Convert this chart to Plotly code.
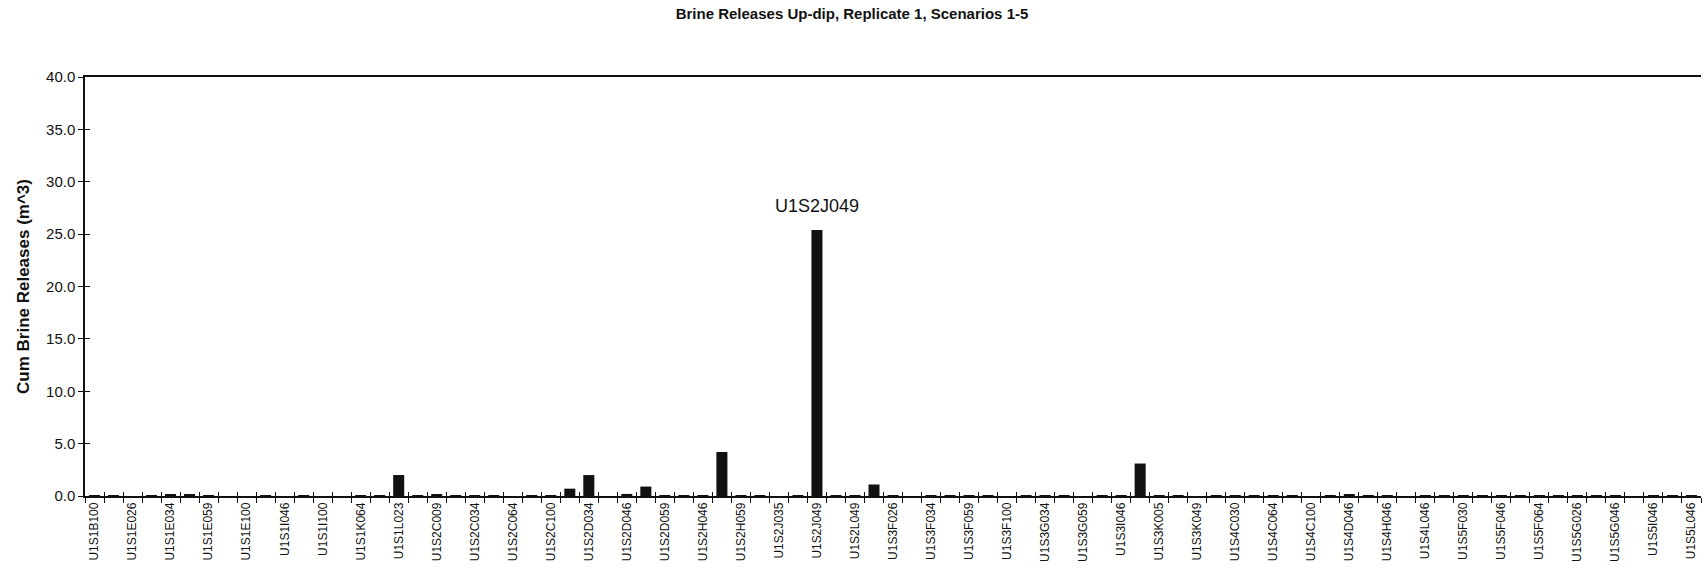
import plotly.graph_objects as go

title = "Brine Releases Up-dip, Replicate 1, Scenarios 1-5"
y_title = "Cum Brine Releases (m^3)"

categories = [
    "U1S1B100", "U1S1E009", "U1S1E026", "U1S1E030", "U1S1E034", "U1S1E049", "U1S1E059", "U1S1E064",
    "U1S1E100", "U1S1I034", "U1S1I046", "U1S1I064", "U1S1I100", "U1S1K046", "U1S1K064", "U1S1L009",
    "U1S1L023", "U1S1L064", "U1S2C009", "U1S2C026", "U1S2C034", "U1S2C046", "U1S2C064", "U1S2C085",
    "U1S2C100", "U1S2D026", "U1S2D034", "U1S2D035", "U1S2D046", "U1S2D049", "U1S2D059", "U1S2H034",
    "U1S2H046", "U1S2H049", "U1S2H059", "U1S2J026", "U1S2J035", "U1S2J046", "U1S2J049", "U1S2L046",
    "U1S2L049", "U1S3F023", "U1S3F026", "U1S3F030", "U1S3F034", "U1S3F046", "U1S3F059", "U1S3F064",
    "U1S3F100", "U1S3G026", "U1S3G034", "U1S3G046", "U1S3G059", "U1S3I035", "U1S3I046", "U1S3I049",
    "U1S3K005", "U1S3K035", "U1S3K049", "U1S4C026", "U1S4C030", "U1S4C046", "U1S4C064", "U1S4C085",
    "U1S4C100", "U1S4D035", "U1S4D046", "U1S4H035", "U1S4H046", "U1S4L035", "U1S4L046", "U1S5F026",
    "U1S5F030", "U1S5F035", "U1S5F046", "U1S5F059", "U1S5F064", "U1S5G023", "U1S5G026", "U1S5G035",
    "U1S5G046", "U1S5I035", "U1S5I046", "U1S5L035", "U1S5L046",
]

releases = [
    0.03, 0.05, 0.0, 0.08, 0.12, 0.10, 0.02, 0.0,
    0.0, 0.04, 0.0, 0.03, 0.0, 0.0, 0.05, 0.04,
    2.0, 0.03, 0.15, 0.05, 0.03, 0.04, 0.0, 0.03,
    0.05, 0.7, 2.0, 0.0, 0.2, 0.9, 0.03, 0.05,
    0.03, 4.2, 0.05, 0.03, 0.0, 0.04, 25.4, 0.05,
    0.08, 1.1, 0.05, 0.0, 0.04, 0.06, 0.04, 0.05,
    0.0, 0.03, 0.05, 0.02, 0.0, 0.02, 0.04, 3.1,
    0.05, 0.03, 0.0, 0.02, 0.05, 0.03, 0.04, 0.02,
    0.0, 0.03, 0.15, 0.05, 0.03, 0.0, 0.02, 0.05,
    0.04, 0.08, 0.03, 0.02, 0.05, 0.03, 0.06, 0.04,
    0.03, 0.0, 0.03, 0.05, 0.07,
]

labelled = "U1S2J049"

FONT = "Liberation Sans, Arial, sans-serif"
INK = "#111111"

fig = go.Figure()
fig.add_trace(go.Bar(
    x=categories, y=releases,
    marker=dict(color=INK, line=dict(width=0)),
    showlegend=False,
))
# companion axes so that ticks cross the axis lines (as in the original)
fig.add_trace(go.Bar(
    x=categories, y=[None] * len(categories),
    xaxis="x2", yaxis="y2", showlegend=False, hoverinfo="skip",
))

fig.add_annotation(
    x=labelled, y=releases[categories.index(labelled)],
    text=labelled, showarrow=False, yanchor="bottom", yshift=12,
    font=dict(family=FONT, size=18, color=INK),
)

fig.update_layout(
    width=1704, height=570,
    margin=dict(l=85, r=3, t=77, b=74),
    paper_bgcolor="white", plot_bgcolor="white",
    bargap=0.42,
    title=dict(text="<b>" + title + "</b>", x=0.5, xanchor="center",
               y=1 - 14 / 570, yref="container", yanchor="middle",
               font=dict(family=FONT, size=15, color=INK)),
    font=dict(family=FONT, color=INK),
    xaxis=dict(
        type="category", automargin=False,
        showline=True, linecolor=INK, linewidth=1.5, mirror=True,
        ticks="outside", ticklen=5, tickcolor=INK, tickson="boundaries",
        tickmode="linear", tick0=0, dtick=1, ticklabelstep=2,
        tickangle=-90, tickfont=dict(family=FONT, size=12, color=INK),
        showgrid=False, zeroline=False,
    ),
    yaxis=dict(
        range=[0, 40], tick0=0, dtick=5, tickformat=".1f", automargin=False,
        showline=True, linecolor=INK, linewidth=1.5,
        ticks="outside", ticklen=5, tickcolor=INK,
        tickfont=dict(family=FONT, size=15, color=INK),
        showgrid=False, zeroline=False,
        title=dict(text="<b>" + y_title + "</b>", standoff=12,
                   font=dict(family=FONT, size=17, color=INK)),
    ),
    xaxis2=dict(
        type="category", overlaying="x", matches="x", anchor="y2", automargin=False,
        ticks="inside", ticklen=4, tickcolor=INK, tickson="boundaries",
        tickmode="linear", tick0=0, dtick=1, showticklabels=False,
        showgrid=False, zeroline=False, showline=False,
    ),
    yaxis2=dict(
        range=[0, 40], overlaying="y", anchor="x2", side="left", automargin=False,
        tick0=0, dtick=5, ticks="inside", ticklen=5, tickcolor=INK,
        showticklabels=False, showgrid=False, zeroline=False, showline=False,
    ),
)

fig.write_html(
    "out.html",
    config={"displayModeBar": False},
    post_script="document.body.style.margin='0';document.body.style.overflow='hidden';",
)
